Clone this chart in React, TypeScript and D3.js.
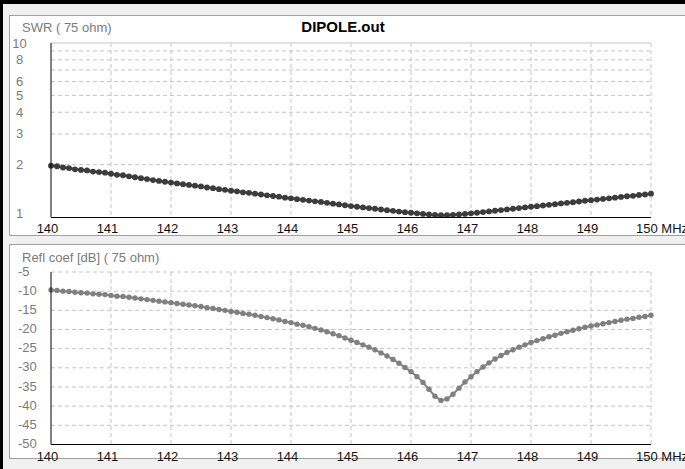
import React from "react";
import * as d3 from "d3";

// ---- data ----
const freqStart = 140;
const freqStep = 0.1;
const xTicks = [140, 141, 142, 143, 144, 145, 146, 147, 148, 149, 150];
const swrTickLabels = [1, 2, 3, 4, 5, 6, 8, 10];
const swrGrid = [2, 3, 4, 5, 6, 7, 8, 9];
const dbTicks = [-5, -10, -15, -20, -25, -30, -35, -40, -45, -50];

const swrValues = [
  1.973, 1.957, 1.925, 1.910, 1.880, 1.865, 1.851, 1.824, 1.811, 1.798,
  1.772, 1.748, 1.737, 1.714, 1.692, 1.671, 1.651, 1.631, 1.612, 1.594,
  1.577, 1.560, 1.544, 1.528, 1.513, 1.498, 1.478, 1.464, 1.445, 1.432,
  1.415, 1.404, 1.387, 1.377, 1.362, 1.347, 1.333, 1.320, 1.308, 1.292,
  1.281, 1.266, 1.256, 1.243, 1.231, 1.220, 1.206, 1.193, 1.181, 1.168,
  1.156, 1.145, 1.135, 1.125, 1.115, 1.104, 1.095, 1.085, 1.075, 1.066,
  1.058, 1.050, 1.042, 1.034, 1.027, 1.024, 1.025, 1.029, 1.035, 1.042,
  1.050, 1.058, 1.067, 1.076, 1.086, 1.096, 1.105, 1.115, 1.125, 1.135,
  1.145, 1.154, 1.164, 1.175, 1.184, 1.196, 1.206, 1.217, 1.228, 1.240,
  1.249, 1.259, 1.270, 1.281, 1.292, 1.304, 1.316, 1.324, 1.338, 1.347,
  1.362,
];

const reflDb = [
  -9.7, -9.8, -10.0, -10.1, -10.3, -10.4, -10.5, -10.7, -10.8, -10.9,
  -11.1, -11.3, -11.4, -11.6, -11.8, -12.0, -12.2, -12.4, -12.6, -12.8,
  -13.0, -13.2, -13.4, -13.6, -13.8, -14.0, -14.3, -14.5, -14.8, -15.0,
  -15.3, -15.5, -15.8, -16.0, -16.3, -16.6, -16.9, -17.2, -17.5, -17.9,
  -18.2, -18.6, -18.9, -19.3, -19.7, -20.1, -20.6, -21.1, -21.6, -22.2,
  -22.8, -23.4, -24.0, -24.6, -25.3, -26.1, -26.9, -27.8, -28.8, -29.9,
  -31.0, -32.3, -33.8, -35.6, -37.4, -38.5, -38.1, -36.9, -35.3, -33.7,
  -32.3, -31.0, -29.8, -28.7, -27.7, -26.8, -26.0, -25.3, -24.6, -24.0,
  -23.4, -22.9, -22.4, -21.9, -21.5, -21.0, -20.6, -20.2, -19.8, -19.4,
  -19.1, -18.8, -18.5, -18.2, -17.9, -17.6, -17.3, -17.1, -16.8, -16.6,
  -16.3,
];

const FONT = "'Liberation Sans', Arial, sans-serif";

export default function App() {
  const W = 685;
  const H = 469;
  const left = 51;
  const right = 651;

  const x = d3.scaleLinear().domain([140, 150]).range([left, right]);
  const ySwr = d3.scaleLog().domain([1, 10]).range([217, 43]);
  const yDb = d3.scaleLinear().domain([-50, -5]).range([444.5, 272]);

  const freqs = swrValues.map((_, i) => freqStart + i * freqStep);

  const swrLine = d3
    .line<number>()
    .x((_, i) => x(freqs[i]))
    .y((d) => ySwr(d));
  const dbLine = d3
    .line<number>()
    .x((_, i) => x(freqs[i]))
    .y((d) => yDb(d));

  const gridColor = "#c4c4c4";
  const dash = "4,3";

  const xLabels = (yAxis: number) =>
    xTicks.map((t) =>
      t === 150 ? (
        <text key={t} x={x(t) - 15} y={yAxis + 16} fontSize={13} fill="#111" textAnchor="start">
          150 MHz
        </text>
      ) : (
        <text key={t} x={x(t) - 3.5} y={yAxis + 16} fontSize={13} fill="#111" textAnchor="middle">
          {t}
        </text>
      )
    );

  return (
    <div style={{ position: "fixed", left: 0, top: 0, width: W, height: H, background: "#f0f0f0" }}>
      <svg width={W} height={H} style={{ display: "block", fontFamily: FONT }}>
        <rect x={0} y={0} width={W} height={H} fill="#f0f0f0" />
        <rect x={0} y={0} width={W} height={4} fill="#000" />
        <rect x={0} y={0} width={3} height={H} fill="#000" />

        {/* top panel */}
        <rect x={9.5} y={15.5} width={700} height={220} fill="#fff" stroke="#a0a0a0" />
        {/* bottom panel */}
        <rect x={9.5} y={244.5} width={700} height={214} fill="#fff" stroke="#a0a0a0" />

        {/* ---------- TOP: SWR ---------- */}
        <text x={343} y={32} fontSize={15} fontWeight="bold" textAnchor="middle" fill="#000">
          DIPOLE.out
        </text>
        <text x={22} y={32} fontSize={13} fill="#7a7a7a">
          SWR ( 75 ohm)
        </text>
        <line x1={left} x2={right} y1={ySwr(10)} y2={ySwr(10)} stroke={gridColor} />
        {swrGrid.map((g) => (
          <line key={g} x1={left} x2={right} y1={ySwr(g)} y2={ySwr(g)} stroke={gridColor} strokeDasharray={dash} />
        ))}
        {xTicks.slice(1).map((t) => (
          <line key={t} x1={x(t)} x2={x(t)} y1={ySwr(10)} y2={ySwr(1)} stroke={gridColor} strokeDasharray={dash} />
        ))}
        {swrTickLabels.map((v) => (
          <text
            key={v}
            x={19.5}
            y={Math.min(ySwr(v), ySwr(1) - 4) + 4.5}
            fontSize={13}
            fill="#7a7a7a"
            textAnchor="middle"
          >
            {v}
          </text>
        ))}
        <path d={swrLine(swrValues) || ""} fill="none" stroke="#3c3c3c" strokeWidth={2.5} />
        {swrValues.map((v, i) => (
          <circle key={i} cx={x(freqs[i])} cy={ySwr(v)} r={2.9} fill="#3c3c3c" />
        ))}
        <line x1={left} x2={left} y1={ySwr(10)} y2={ySwr(1)} stroke="#000" />
        <line x1={left} x2={right} y1={ySwr(1) + 0.5} y2={ySwr(1) + 0.5} stroke="#000" />
        {xLabels(ySwr(1))}

        {/* ---------- BOTTOM: Refl coef ---------- */}
        <text x={22} y={262} fontSize={13} fill="#7a7a7a">
          Refl coef [dB] ( 75 ohm)
        </text>
        {dbTicks.slice(0, -1).map((g) => (
          <line key={g} x1={left} x2={right} y1={yDb(g)} y2={yDb(g)} stroke={gridColor} strokeDasharray={dash} />
        ))}
        {xTicks.slice(1).map((t) => (
          <line key={t} x1={x(t)} x2={x(t)} y1={yDb(-5)} y2={yDb(-50)} stroke={gridColor} strokeDasharray={dash} />
        ))}
        {dbTicks.map((v) => (
          <text key={v} x={18} y={yDb(v) + 3.5} fontSize={13} fill="#7a7a7a" textAnchor="start">
            {v}
          </text>
        ))}
        <path d={dbLine(reflDb) || ""} fill="none" stroke="#808080" strokeWidth={2} />
        {reflDb.map((v, i) => (
          <circle key={i} cx={x(freqs[i])} cy={yDb(v)} r={2.7} fill="#808080" />
        ))}
        <line x1={left} x2={left} y1={yDb(-5)} y2={yDb(-50)} stroke="#000" />
        <line x1={left} x2={right} y1={yDb(-50)} y2={yDb(-50)} stroke="#000" />
        {xLabels(yDb(-50))}
      </svg>
    </div>
  );
}
